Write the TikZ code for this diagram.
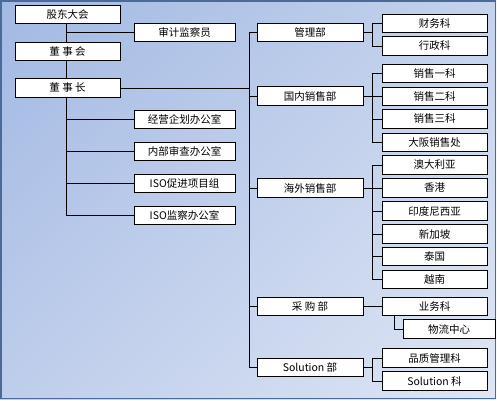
\documentclass[tikz,border=0pt]{standalone}
\usepackage{fontspec}
\usetikzlibrary{shadings}
\setmainfont{Noto Sans CJK SC}
\definecolor{bgul}{HTML}{A2B9E3}
\definecolor{bgur}{HTML}{C4D2EC}
\definecolor{bgll}{HTML}{BECDEB}
\definecolor{bglr}{HTML}{DFE6F4}
\definecolor{frame}{HTML}{4C6A98}
\begin{document}
\begin{tikzpicture}[x=1pt,y=-1pt,
  box/.style={draw=black,line width=1pt,fill=white,inner sep=0pt,
    minimum height=18.5pt,font=\fontsize{10.5}{12}\selectfont},
  lbox/.style={box,minimum width=105pt},
  obox/.style={box,minimum width=101pt},
  mbox/.style={box,minimum width=106pt},
  rbox/.style={box,minimum width=105pt},
  conn/.style={draw=black,line width=0.9pt}]
\useasboundingbox (0,0) rectangle (497,400);
\shade[upper left=bgul,upper right=bgur,lower left=bgll,lower right=bglr] (0,0) rectangle (496,399);
\draw[frame,line width=1.6pt] (0.8,0.8) rectangle (495.5,398.5);

% left column
\node[lbox] (gd) at (67.5,14.5) {股东大会};
\node[lbox] (dsh) at (67.5,51.5) {董 事 会};
\node[lbox] (dsz) at (67.5,88) {董 事 长};
\node[obox] (sj) at (184.5,32.5) {审计监察员};
\node[obox] (o1) at (184.5,119.5) {经营企划办公室};
\node[obox] (o2) at (184.5,151.5) {内部审查办公室};
\node[obox] (o3) at (184.5,183.5) {ISO促进项目组};
\node[obox] (o4) at (184.5,215.5) {ISO监察办公室};

% middle column
\node[mbox] (m1) at (310,32.5) {管理部};
\node[mbox] (m2) at (310,96) {国内销售部};
\node[mbox] (m3) at (310,188) {海外销售部};
\node[mbox] (m4) at (310,306.5) {采 购 部};
\node[mbox] (m5) at (310,367.5) {Solution 部};

% right column
\node[rbox] (r1) at (434.5,23.5) {财务科};
\node[rbox] (r2) at (434.5,46) {行政科};
\node[rbox] (r3) at (434.5,73.5) {销售一科};
\node[rbox] (r4) at (434.5,96.5) {销售二科};
\node[rbox] (r5) at (434.5,119) {销售三科};
\node[rbox] (r6) at (434.5,142.5) {大阪销售处};
\node[rbox] (r7) at (434.5,165) {澳大利亚};
\node[rbox] (r8) at (434.5,188) {香港};
\node[rbox] (r9) at (434.5,211) {印度尼西亚};
\node[rbox] (r10) at (434.5,234) {新加坡};
\node[rbox] (r11) at (434.5,256.5) {泰国};
\node[rbox] (r12) at (434.5,279.5) {越南};
\node[rbox] (r13) at (434.5,306.5) {业务科};
\node[box,minimum width=92pt] (r14) at (449,329) {物流中心};
\node[rbox] (r15) at (434.5,358) {品质管理科};
\node[rbox] (r16) at (434.5,381) {Solution 科};

% coordinates
\coordinate (tx) at (249,0);
\coordinate (bx) at (372,0);
\coordinate (lx) at (66,0);
\coordinate (wx) at (394,0);

% left connectors
\draw[conn] (gd.south -| lx) -- (dsh.north -| lx);
\draw[conn] (dsh.south -| lx) -- (dsz.north -| lx);
\draw[conn] (dsz.south -| lx) -- (o4.west -| lx) -- (o4.west);
\draw[conn] (sj.west -| lx) -- (sj.west);
\draw[conn] (o1.west -| lx) -- (o1.west);
\draw[conn] (o2.west -| lx) -- (o2.west);
\draw[conn] (o3.west -| lx) -- (o3.west);

% trunk
\draw[conn] (dsz.east) -- (dsz.east -| tx);
\draw[conn] (m1.west -| tx) -- (m5.west -| tx);
\foreach \m in {m1,m2,m3,m4,m5} \draw[conn] (\m.west -| tx) -- (\m.west);

% branches
\draw[conn] (m1.east) -- (m1.east -| bx);
\draw[conn] (r1.west -| bx) -- (r2.west -| bx);
\foreach \r in {r1,r2} \draw[conn] (\r.west -| bx) -- (\r.west);
\draw[conn] (m2.east) -- (m2.east -| bx);
\draw[conn] (r3.west -| bx) -- (r6.west -| bx);
\foreach \r in {r3,r4,r5,r6} \draw[conn] (\r.west -| bx) -- (\r.west);
\draw[conn] (m3.east) -- (m3.east -| bx);
\draw[conn] (r7.west -| bx) -- (r12.west -| bx);
\foreach \r in {r7,r8,r9,r10,r11,r12} \draw[conn] (\r.west -| bx) -- (\r.west);
\draw[conn] (m4.east) -- (r13.west);
\draw[conn] (r13.south -| wx) -- (r14.west -| wx) -- (r14.west);
\draw[conn] (m5.east) -- (m5.east -| bx);
\draw[conn] (r15.west -| bx) -- (r16.west -| bx);
\foreach \r in {r15,r16} \draw[conn] (\r.west -| bx) -- (\r.west);
\end{tikzpicture}
\end{document}
